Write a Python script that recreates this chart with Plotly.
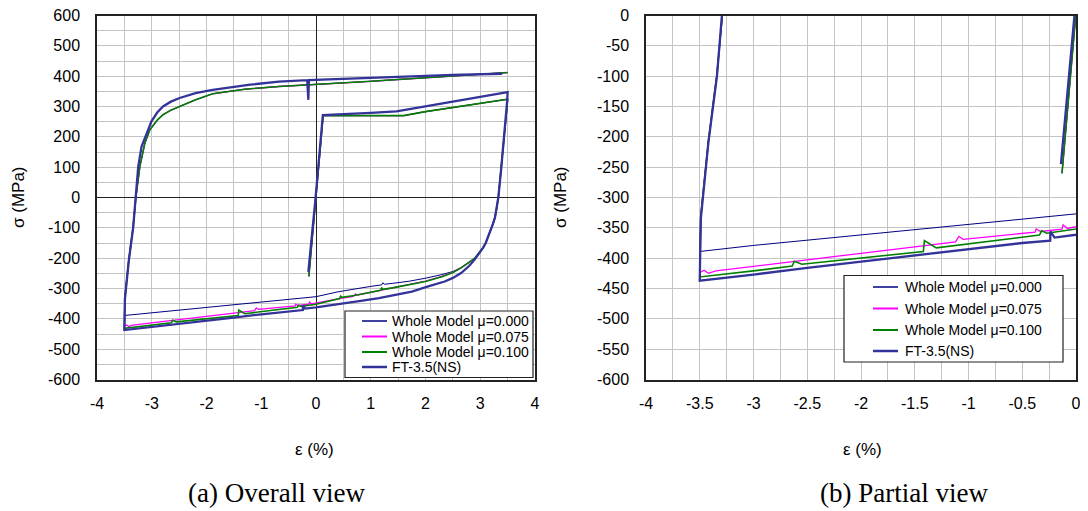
import plotly.graph_objects as go

# ---------------- data (strain in %, stress in MPa) ----------------
SERIES_NAMES = ["Whole Model \u03bc=0.000", "Whole Model \u03bc=0.075",
                "Whole Model \u03bc=0.100", "FT-3.5(NS)"]

# path shared by the three numerical models
MODEL_LOAD_STRAIN = [-0.13, 0.0, 0.13, 0.4, 0.8, 1.2, 1.6, 2.0, 2.5, 3.0, 3.5]
MODEL_LOAD_STRESS = [-260, 5, 270, 270, 270, 269, 270, 283, 297, 311, 324]
MODEL_UNLOAD_STRAIN = [3.49, 3.44, 3.38, 3.33, 3.30, 3.27, 3.23, 3.19, 3.15, 3.10, 3.05,
                       3.0, 2.95, 2.9]
MODEL_UNLOAD_STRESS = [300, 200, 90, 0, -35, -65, -88, -108, -128, -150, -166,
                       -178, -190, -200]
MODEL_RELOAD_STRAIN = [-3.49, -3.465, -3.42, -3.34, -3.29, -3.217, -3.126, -3.035, -2.9,
                       -2.794, -2.65, -2.491, -2.2, -1.888, -1.3, -0.678, 0.0, 0.5, 1.0,
                       1.5, 2.0, 2.5, 3.0, 3.5]
MODEL_RELOAD_STRESS = [-330, -286, -208, -97, 0, 102, 179, 223, 255,
                       273, 288, 300, 322, 342, 357, 366, 372, 377, 383,
                       389, 395, 400, 405, 412]

# compressive branches of each model
MU000_LOWER_STRAIN = [2.8, 2.65, 2.5, 2.3, 2.0, 1.7, 1.4, 1.25, 1.22, 1.2, 1.0, 0.7, 0.4,
                      0.0, -1.0, -2.0, -3.0, -3.5]
MU000_LOWER_STRESS = [-213, -231, -244, -254, -266, -276, -283, -286, -281, -288, -293,
                      -302, -311, -327, -344, -362, -379, -389]
MU075_LOWER_STRAIN = [2.8, 2.65, 2.5, 2.3, 2.0, 1.7, 1.4, 1.2, 1.0, 0.74, 0.72, 0.68, 0.4,
                      0.0, -0.08, -0.12, -0.13, -0.33, -0.37, -0.38, -1.05, -1.09, -1.12,
                      -2.0, -3.0, -3.35, -3.42, -3.46, -3.5]
MU075_LOWER_STRESS = [-213, -232, -246, -260, -276, -287, -296, -303, -311, -322, -318,
                      -326, -334, -349, -351, -345, -352, -356, -352, -357, -369, -364,
                      -373, -392, -413, -421, -425, -420, -424]
MU100_LOWER_STRAIN = [2.8, 2.65, 2.5, 2.3, 2.0, 1.7, 1.4, 1.22, 1.2, 1.18, 1.0, 0.7, 0.47,
                      0.45, 0.43, 0.0, -0.27, -0.32, -0.34, -1.3, -1.41, -1.42, -2.55,
                      -2.62, -2.64, -3.0, -3.5]
MU100_LOWER_STRESS = [-213, -232, -247, -261, -277, -288, -298, -303, -297, -306, -313,
                      -323, -329, -325, -333, -352, -359, -355, -362, -383, -371, -389,
                      -410, -405, -413, -421, -431]

# experiment FT-3.5(NS)
FT_LOAD_STRAIN = [-0.14, -0.01, 0.125, 0.5, 1.0, 1.47, 2.0, 2.5, 3.0, 3.5]
FT_LOAD_STRESS = [-245, -5, 272, 274, 279, 284, 300, 316, 331, 347]
FT_UNLOAD_STRAIN = [3.49, 3.44, 3.38, 3.33, 3.30, 3.27, 3.23, 3.19, 3.15, 3.10, 3.05, 3.0,
                    2.95, 2.9, 2.8, 2.65, 2.5, 2.35, 2.05, 1.75, 1.45, 1.15, 0.85, 0.5,
                    0.2, 0.0, -0.2, -0.237, -0.24, -0.5, -1.0, -1.5, -2.0, -2.5, -3.0,
                    -3.5]
FT_UNLOAD_STRESS = [315, 200, 90, 0, -35, -65, -88, -108, -128, -150, -166, -180,
                    -192, -204, -225, -249, -265, -277, -293, -310, -321, -332, -340, -350,
                    -357, -362, -366, -356, -371, -375, -385, -396, -406, -416, -427,
                    -437]
FT_RELOAD_STRAIN = [-3.49, -3.465, -3.42, -3.34, -3.29, -3.247, -3.186, -3.095, -3.005,
                    -2.9, -2.794, -2.65, -2.491, -2.2, -1.888, -1.2, -0.678, -0.16, -0.14,
                    -0.13, 0.0, 0.5, 1.0, 1.5, 2.0, 2.5, 3.0, 3.4]
FT_RELOAD_STRESS = [-335, -290, -210, -100, 0, 102, 168, 212, 251,
                    280, 300, 316, 328, 344, 355, 372, 382, 387, 322,
                    387, 388, 391, 395, 398, 401, 404, 406, 408]

# tick labels
LEFT_X_TICKS = [-4, -3, -2, -1, 0, 1, 2, 3, 4]
LEFT_Y_TICKS = [-600, -500, -400, -300, -200, -100, 0, 100, 200, 300, 400, 500, 600]
RIGHT_X_TICKS = [-4, -3.5, -3, -2.5, -2, -1.5, -1, -0.5, 0]
RIGHT_Y_TICKS = [-600, -550, -500, -450, -400, -350, -300, -250, -200, -150, -100, -50, 0]

# ---------------- assemble series ----------------
def model(lower_x, lower_y):
    xs = MODEL_LOAD_STRAIN + MODEL_UNLOAD_STRAIN + lower_x + MODEL_RELOAD_STRAIN
    ys = MODEL_LOAD_STRESS + MODEL_UNLOAD_STRESS + lower_y + MODEL_RELOAD_STRESS
    return xs, ys

series = [
    (model(MU000_LOWER_STRAIN, MU000_LOWER_STRESS), "#000080", 1.0),
    (model(MU075_LOWER_STRAIN, MU075_LOWER_STRESS), "#FF00FF", 1.3),
    (model(MU100_LOWER_STRAIN, MU100_LOWER_STRESS), "#008000", 1.6),
    ((FT_LOAD_STRAIN + FT_UNLOAD_STRAIN + FT_RELOAD_STRAIN,
      FT_LOAD_STRESS + FT_UNLOAD_STRESS + FT_RELOAD_STRESS), "#333399", 2.3),
]

# The page body keeps its default 8 px margin, so the figure is drawn 8 px
# smaller and every position below is given in window pixels minus 8.
OFF = 8
W, H = 1088 - OFF, 511 - OFF


def px(x):
    return (x - OFF) / W


def py(y):
    return 1 - (y - OFF) / H


fig = go.Figure()
for (xy, color, width), name in zip(series, SERIES_NAMES):
    for xa, ya in (("x", "y"), ("x2", "y2")):
        fig.add_trace(go.Scatter(x=xy[0], y=xy[1], mode="lines", name=name,
                                 line=dict(color=color, width=width),
                                 xaxis=xa, yaxis=ya, showlegend=False,
                                 hoverinfo="skip"))

TICKFONT = dict(family="Arial, Liberation Sans, sans-serif", size=16, color="black")
GRID = "#c4c4c4"


def fmt(v):
    return ("%g" % v)


def axis(domain, ticks, rng, minor_dtick, zeroline, anchor, standoff):
    d = dict(domain=domain, range=rng, tickmode="array", tickvals=ticks,
             ticktext=[fmt(t) for t in ticks], tickfont=TICKFONT,
             showgrid=True, gridcolor=GRID, gridwidth=1,
             showline=True, mirror=True, linecolor="#222", linewidth=1.5,
             zeroline=zeroline, zerolinecolor="#222", zerolinewidth=1,
             ticks="", ticklabelstandoff=standoff, ticklabeloverflow="allow",
             anchor=anchor, automargin=False, fixedrange=True)
    if minor_dtick:
        d["minor"] = dict(tickmode="linear", tick0=0, dtick=minor_dtick,
                          showgrid=True, gridcolor=GRID, gridwidth=1, ticks="")
    return d

ydom = [py(379.5), py(15.5)]
fig.update_layout(
    width=W, height=H,
    margin=dict(l=0, r=0, t=0, b=0),
    paper_bgcolor="white", plot_bgcolor="white",
    xaxis=axis([px(97), px(535)], LEFT_X_TICKS, [-4, 4], 0.5, True, "y", 9),
    yaxis=axis(ydom, LEFT_Y_TICKS, [-600, 600], 50, True, "x", 12),
    xaxis2=axis([px(646), px(1076)], RIGHT_X_TICKS, [-4, 0], 0.25, False, "y2", 9),
    yaxis2=axis(ydom, RIGHT_Y_TICKS, [-600, 0], None, False, "x2", 12),
)

ann = []
TITLEFONT = dict(family="Arial, Liberation Sans, sans-serif", size=17, color="black")
CAPFONT = dict(family="Times New Roman, Liberation Serif, serif", size=27, color="black")
for x in (18, 560):
    ann.append(dict(text="\u03c3 (MPa)", x=px(x), y=py(197), xref="paper", yref="paper",
                    textangle=-90, showarrow=False, font=TITLEFONT,
                    xanchor="center", yanchor="middle"))
for x in (314, 862):
    ann.append(dict(text="\u03b5 (%)", x=px(x), y=py(449), xref="paper", yref="paper",
                    showarrow=False, font=TITLEFONT, xanchor="center", yanchor="middle"))
for x, t in ((276, "(a) Overall view"), (904, "(b) Partial view")):
    ann.append(dict(text=t, x=px(x), y=py(493), xref="paper", yref="paper",
                    showarrow=False, font=CAPFONT, xanchor="center", yanchor="middle"))

# manual legends (box, sample lines, labels)
shapes = []
LEG_STYLE = [("#000080", 1.5), ("#FF00FF", 2), ("#008000", 2), ("#333399", 2.5)]
LEGFONT = dict(family="Arial, Liberation Sans, sans-serif", size=14, color="black")
for box, rows, lx0, lx1, tx in (
        ((345, 311, 533, 377.5), (321, 336.5, 352, 367), 362, 387, 390),
        ((844, 275.5, 1063, 362), (287, 308.5, 330, 351), 873, 898, 903)):
    shapes.append(dict(type="rect", xref="paper", yref="paper",
                       x0=px(box[0]), x1=px(box[2]), y0=py(box[3]), y1=py(box[1]),
                       line=dict(color="#222", width=1.2), fillcolor="white", layer="above"))
    for yy, (c, w), name in zip(rows, LEG_STYLE, SERIES_NAMES):
        shapes.append(dict(type="line", xref="paper", yref="paper",
                           x0=px(lx0), x1=px(lx1), y0=py(yy), y1=py(yy),
                           line=dict(color=c, width=w), layer="above"))
        ann.append(dict(text=name, x=px(tx), y=py(yy), xref="paper", yref="paper",
                        showarrow=False, font=LEGFONT, xanchor="left", yanchor="middle"))

fig.update_layout(annotations=ann, shapes=shapes)
fig.write_html("out.html")
